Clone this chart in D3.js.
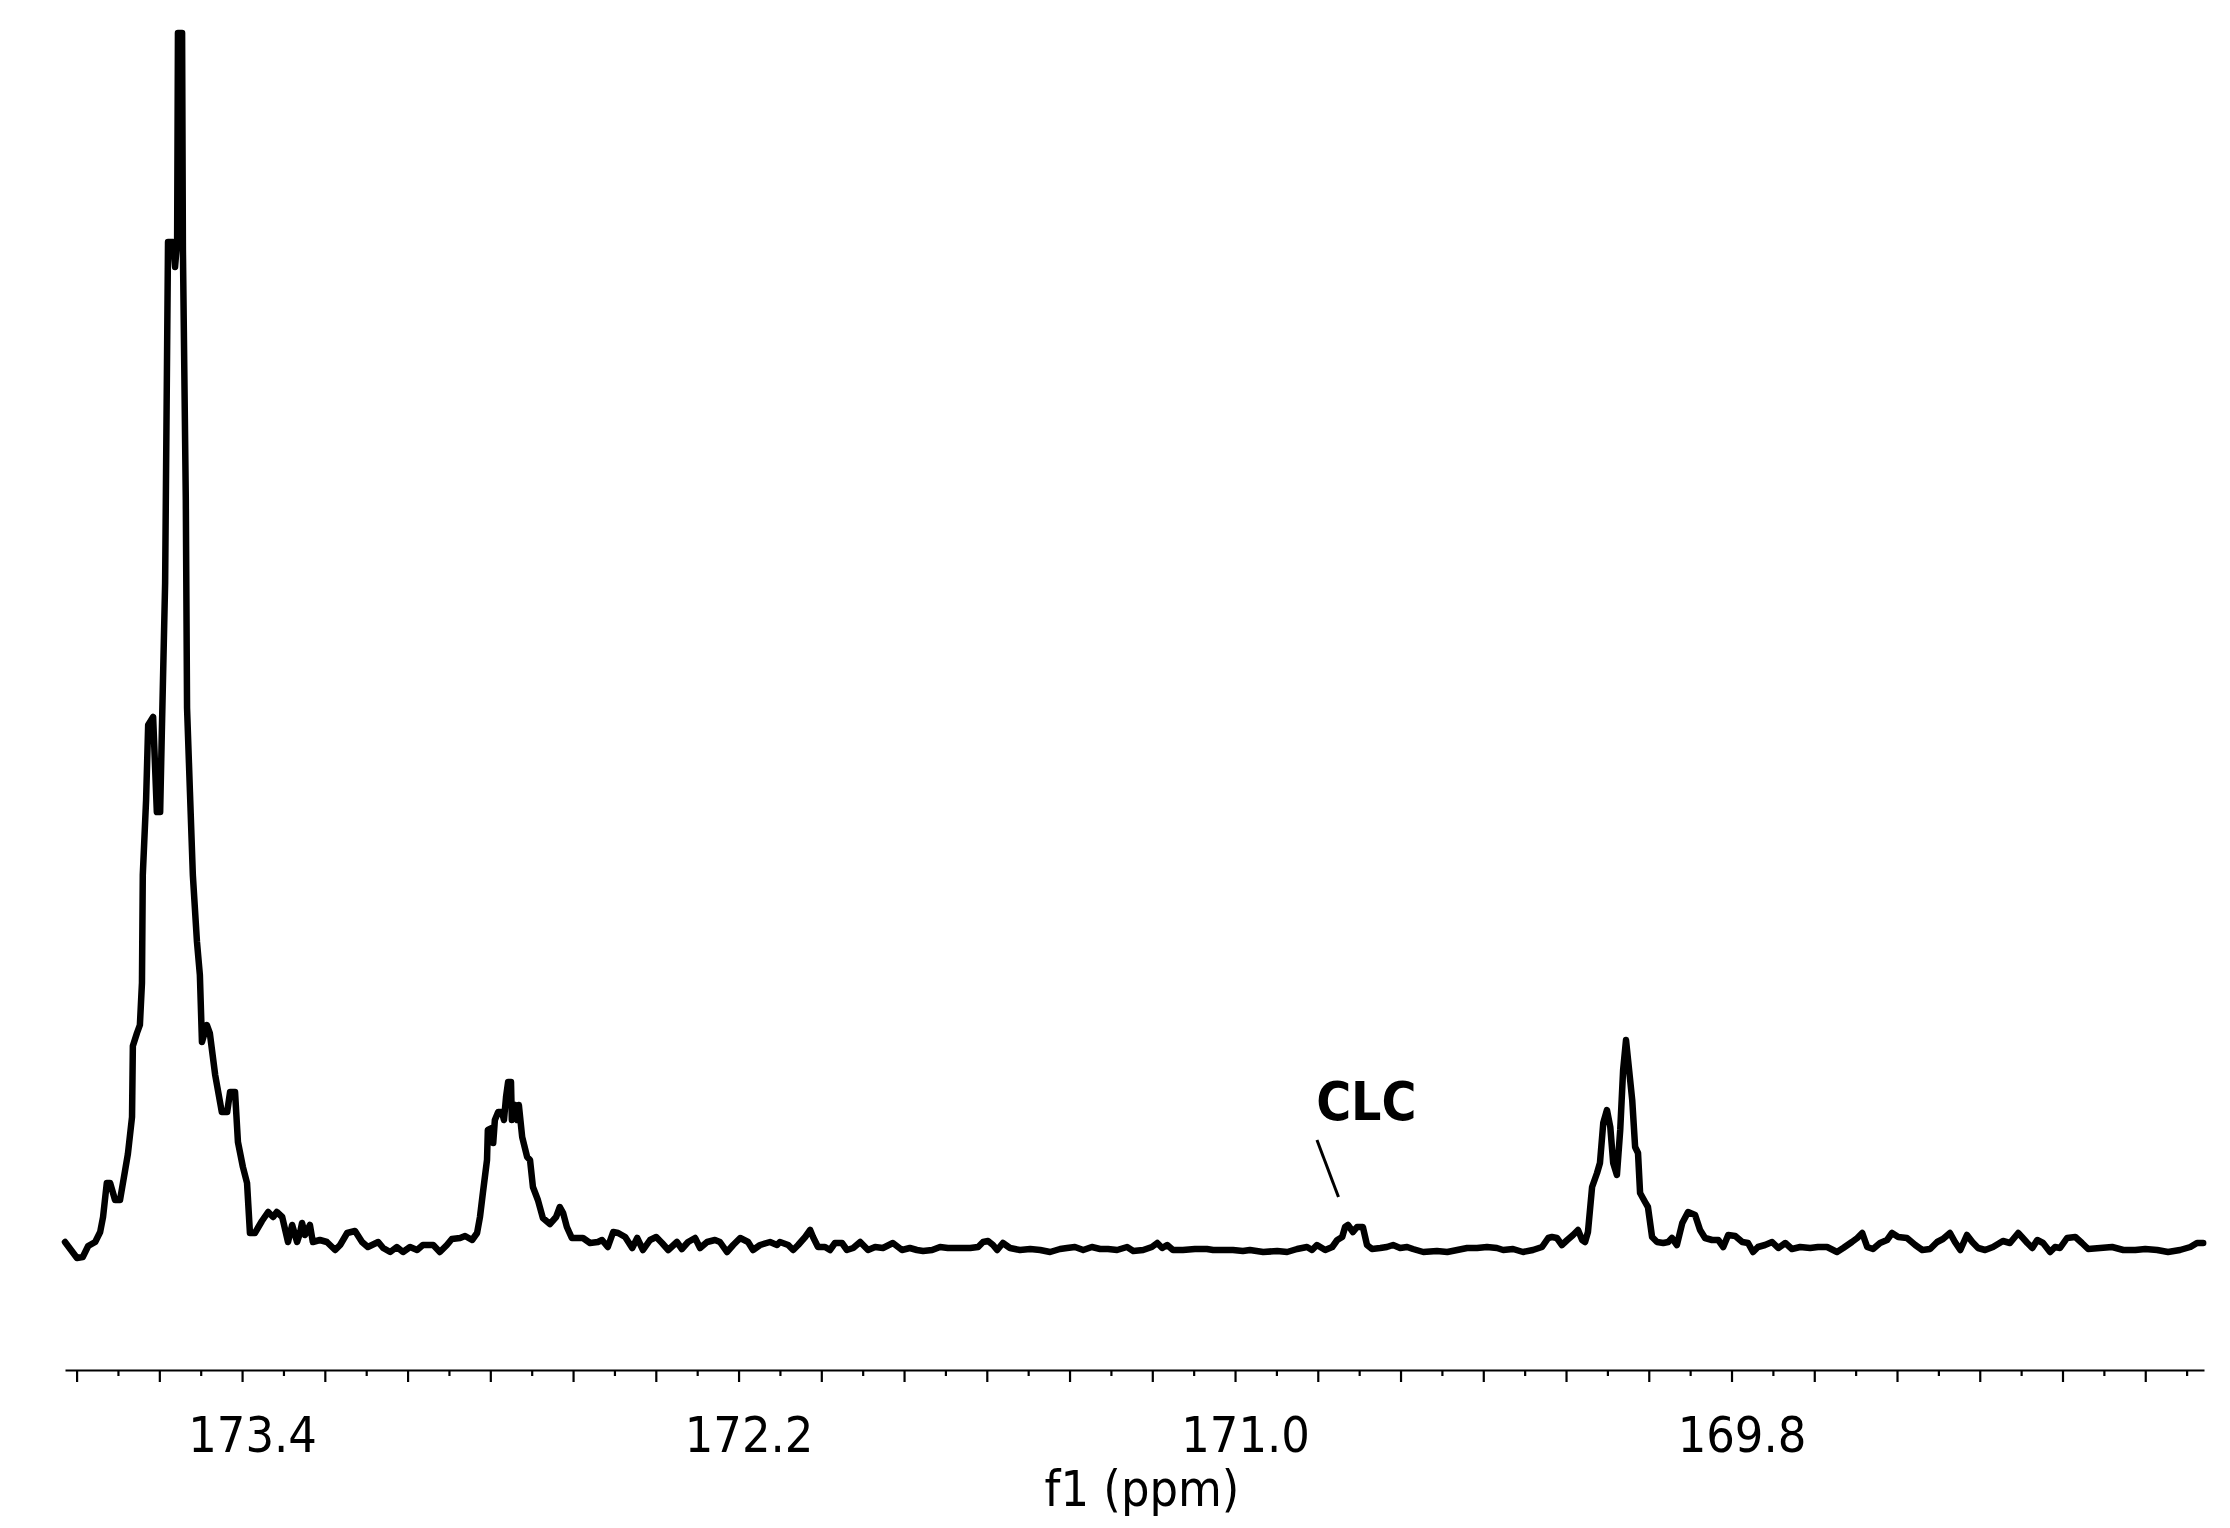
<!DOCTYPE html>
<html>
<head>
<meta charset="utf-8">
<script src="https://cdn.jsdelivr.net/npm/d3@7"></script>
<style>
    body { margin: 0; background: #ffffff; }
    svg { display: block; }
    .tick-label, .axis-title { font-family: "DejaVu Sans Condensed", "DejaVu Sans", sans-serif; font-stretch: condensed; }
</style>
</head>
<body>
<div id="chart"></div>
<script>
// --- Data ---
// 13C spectrum trace: [shift (ppm), intensity (a.u.)]
const spectrum = [
    [173.828,13],[173.799,-3],[173.785,-2],[173.772,9],[173.755,13],[173.743,23],[173.736,38],[173.727,72],[173.719,72],[173.707,55],
    [173.695,55],[173.683,84],[173.676,101],[173.666,138],[173.664,209],[173.654,222],[173.647,230],[173.642,272],[173.640,380],[173.632,455],
    [173.627,530],[173.615,538],[173.606,443],[173.598,443],[173.594,522],[173.586,672],[173.579,1013],[173.567,1013],[173.562,988],[173.557,1013],
    [173.555,1222],[173.545,1222],[173.543,1005],[173.536,755],[173.533,547],[173.526,463],[173.519,380],[173.509,313],[173.502,280],[173.497,213],
    [173.485,230],[173.478,222],[173.465,180],[173.449,143],[173.436,143],[173.429,163],[173.417,163],[173.410,113],[173.398,88],[173.388,72],
    [173.381,22],[173.369,22],[173.352,34],[173.337,43],[173.325,38],[173.316,43],[173.303,38],[173.289,13],[173.279,30],[173.267,13],
    [173.260,22],[173.255,32],[173.248,20],[173.236,30],[173.229,13],[173.212,15],[173.195,13],[173.175,5],[173.163,10],[173.146,22],
    [173.127,24],[173.110,13],[173.096,8],[173.071,13],[173.059,7],[173.042,3],[173.026,8],[173.011,3],[172.994,8],[172.977,5],
    [172.963,10],[172.938,10],[172.922,3],[172.905,10],[172.893,16],[172.873,17],[172.861,19],[172.844,15],[172.832,22],[172.825,38],
    [172.818,62],[172.808,95],[172.806,125],[172.796,127],[172.793,112],[172.789,135],[172.781,143],[172.772,143],[172.767,135],[172.762,158],
    [172.757,173],[172.750,173],[172.748,135],[172.740,150],[172.735,135],[172.731,150],[172.723,118],[172.711,98],[172.704,95],[172.697,68],
    [172.685,55],[172.673,37],[172.656,31],[172.641,38],[172.632,48],[172.624,42],[172.615,28],[172.603,17],[172.588,17],[172.576,17],
    [172.559,12],[172.540,13],[172.530,15],[172.516,8],[172.503,23],[172.491,22],[172.474,18],[172.457,7],[172.445,17],[172.431,5],
    [172.414,15],[172.399,18],[172.385,12],[172.370,5],[172.349,13],[172.337,6],[172.322,13],[172.305,17],[172.293,7],[172.276,13],
    [172.257,15],[172.245,13],[172.228,3],[172.213,10],[172.196,17],[172.177,13],[172.165,5],[172.148,10],[172.124,13],[172.107,10],
    [172.100,13],[172.080,10],[172.068,5],[172.056,10],[172.039,18],[172.027,25],[172.020,18],[172.008,8],[171.991,8],[171.979,5],
    [171.967,12],[171.950,12],[171.938,5],[171.923,7],[171.906,13],[171.887,5],[171.870,8],[171.851,7],[171.827,12],[171.805,5],
    [171.786,7],[171.769,5],[171.754,4],[171.732,5],[171.713,8],[171.694,7],[171.672,7],[171.640,7],[171.621,8],[171.609,13],
    [171.597,14],[171.585,10],[171.575,5],[171.561,12],[171.544,7],[171.520,5],[171.495,6],[171.471,5],[171.447,3],[171.423,6],
    [171.406,7],[171.387,8],[171.367,5],[171.346,8],[171.326,6],[171.307,6],[171.285,5],[171.261,8],[171.246,4],[171.222,5],
    [171.201,8],[171.188,12],[171.176,7],[171.164,10],[171.150,5],[171.126,5],[171.097,6],[171.068,6],[171.053,5],[171.029,5],
    [171.005,5],[170.981,4],[170.964,5],[170.932,3],[170.898,4],[170.874,3],[170.850,6],[170.826,8],[170.814,5],[170.802,10],
    [170.782,5],[170.765,8],[170.753,15],[170.741,18],[170.734,28],[170.727,30],[170.715,23],[170.705,28],[170.691,28],[170.681,10],
    [170.669,6],[170.649,7],[170.633,8],[170.618,10],[170.601,7],[170.584,8],[170.570,6],[170.545,3],[170.512,4],[170.487,3],
    [170.463,5],[170.439,7],[170.415,7],[170.391,8],[170.367,7],[170.352,5],[170.328,6],[170.304,3],[170.280,5],[170.258,8],
    [170.243,17],[170.234,18],[170.222,17],[170.210,10],[170.197,15],[170.183,20],[170.171,25],[170.161,15],[170.154,13],[170.147,23],
    [170.137,68],[170.125,82],[170.118,92],[170.110,132],[170.101,145],[170.093,128],[170.086,92],[170.077,80],[170.069,125],[170.062,185],
    [170.055,215],[170.050,195],[170.040,155],[170.033,108],[170.026,102],[170.021,62],[170.009,53],[170.002,48],[169.992,18],[169.980,13],
    [169.965,12],[169.953,13],[169.944,17],[169.932,10],[169.919,32],[169.905,43],[169.888,40],[169.876,25],[169.864,17],[169.847,15],
    [169.832,15],[169.820,8],[169.808,20],[169.791,19],[169.774,13],[169.760,12],[169.748,3],[169.736,8],[169.719,10],[169.702,13],
    [169.687,7],[169.670,12],[169.654,6],[169.634,8],[169.610,7],[169.591,8],[169.569,8],[169.545,3],[169.530,7],[169.509,13],
    [169.496,17],[169.484,22],[169.472,8],[169.458,6],[169.441,12],[169.424,15],[169.412,22],[169.397,18],[169.376,17],[169.356,10],
    [169.339,5],[169.320,6],[169.303,13],[169.289,16],[169.272,22],[169.260,13],[169.247,5],[169.231,20],[169.218,13],[169.204,7],
    [169.187,5],[169.168,8],[169.144,14],[169.127,12],[169.107,22],[169.098,18],[169.085,12],[169.073,7],[169.061,15],[169.047,12],
    [169.030,3],[169.018,8],[169.006,7],[168.989,17],[168.969,18],[168.953,12],[168.938,6],[168.909,7],[168.880,8],[168.853,5],
    [168.824,5],[168.800,6],[168.771,5],[168.745,3],[168.716,5],[168.691,8],[168.675,12],[168.660,12]
];

// axis: shift range shown, labelled ticks
const shiftRange = [173.828, 168.658];
const tickLabels = [173.4, 172.2, 171.0, 169.8];
const axisTitle = "f1 (ppm)";

// annotation
const annotationText = "CLC";
const annotationAt = { ppm: 170.75, intensity: 58 };

// --- Layout ---
const W = 2230, H = 1528;
const plotLeft = 65, plotRight = 2204;
const baselineY = 1255, topY = 35;
const axisY = 1370;

const svg = d3.select("#chart")
    .append("svg")
    .attr("width", W)
    .attr("height", H)
    .style("background", "#ffffff");

// ppm runs right-to-left as usual for NMR
const x = d3.scaleLinear().domain(shiftRange).range([plotLeft, plotRight]);
const y = d3.scaleLinear().domain([0, 1220]).range([baselineY, topY]);

// --- Spectrum trace ---
const line = d3.line()
    .x(d => x(d[0]))
    .y(d => y(d[1]));

svg.append("path")
    .datum(spectrum)
    .attr("fill", "none")
    .attr("stroke", "#000000")
    .attr("stroke-width", 6.5)
    .attr("stroke-linejoin", "round")
    .attr("stroke-linecap", "round")
    .attr("d", line);

// --- Axis ---
// ticks every 0.1 ppm, long ones on even tenths
const tickVals = d3.range(1738, 1686, -1).map(v => v / 10);
const labelKeys = new Set(tickLabels.map(v => Math.round(v * 10)));

const xAxis = d3.axisBottom(x)
    .tickValues(tickVals)
    .tickSize(12)
    .tickSizeOuter(0)
    .tickFormat(d => labelKeys.has(Math.round(d * 10)) ? d.toFixed(1) : "");

const axisGroup = svg.append("g")
    .attr("transform", `translate(0,${axisY})`)
    .call(xAxis);

axisGroup.select(".domain")
    .attr("stroke", "#000000")
    .attr("stroke-width", 2.2);

axisGroup.selectAll(".tick line")
    .attr("stroke", "#000000")
    .attr("stroke-width", 2.2)
    .attr("y2", d => Math.round(d * 10) % 2 === 0 ? 12 : 6);

axisGroup.selectAll(".tick text")
    .attr("class", "tick-label")
    .attr("fill", "#000000")
    .attr("font-size", 50)
    .attr("y", 82)
    .attr("dy", 0)
    .attr("dx", 10)
    .attr("text-anchor", "middle");

svg.append("text")
    .attr("class", "axis-title")
    .attr("x", 1142)
    .attr("y", 1506)
    .attr("text-anchor", "middle")
    .attr("font-size", 50)
    .attr("fill", "#000000")
    .text(axisTitle);

// --- Annotation ---
svg.append("line")
    .attr("x1", x(annotationAt.ppm + 0.052))
    .attr("y1", y(annotationAt.intensity + 57))
    .attr("x2", x(annotationAt.ppm))
    .attr("y2", y(annotationAt.intensity))
    .attr("stroke", "#000000")
    .attr("stroke-width", 3);

svg.append("text")
    .attr("x", x(annotationAt.ppm + 0.054))
    .attr("y", y(annotationAt.intensity + 77))
    .attr("font-family", "\"DejaVu Sans Condensed\", \"DejaVu Sans\", sans-serif")
    .attr("font-stretch", "condensed")
    .attr("font-weight", "bold")
    .attr("font-size", 53)
    .attr("fill", "#000000")
    .text(annotationText);
</script>
</body>
</html>
